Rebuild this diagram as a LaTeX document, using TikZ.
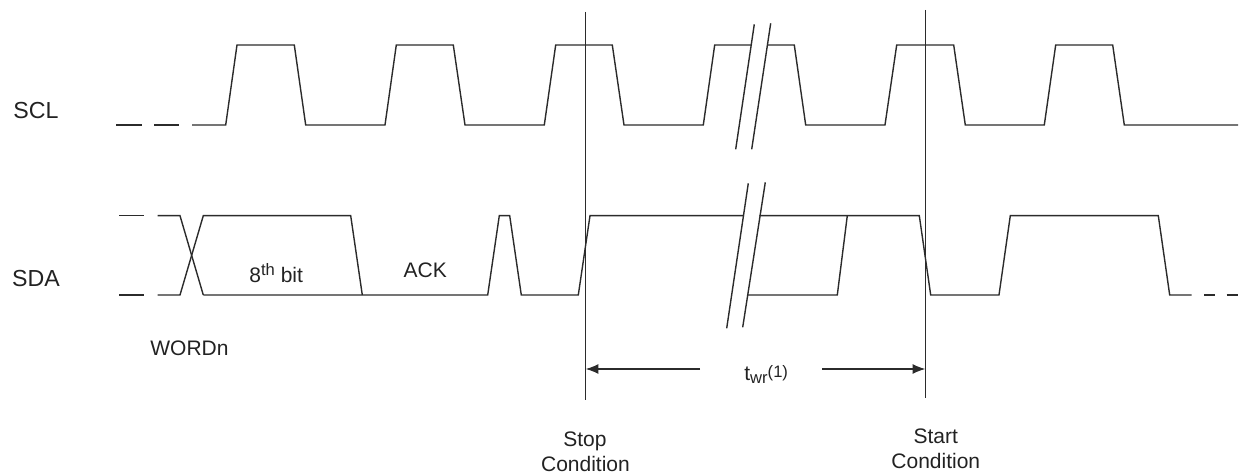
\documentclass[tikz,border=0pt]{standalone}
\usepackage{fontspec}
\setmainfont{Liberation Sans}
\usetikzlibrary{arrows.meta}
\definecolor{wave}{HTML}{2B2B2B}
\definecolor{txt}{HTML}{222222}
\newcommand{\smallsz}{\fontsize{8.3pt}{9pt}\selectfont}
\tikzset{
  sig/.style={draw=wave, line width=0.7pt, line join=miter},
  brk/.style={draw=wave, line width=0.7pt},
  mark line/.style={draw=wave, line width=0.7pt},
  dimarrow/.style={draw=wave, line width=0.7pt, -{Latex[length=6.3pt,width=5pt]}},
  lbl/.style={text=txt, inner sep=0pt, anchor=base, font=\fontsize{11.6pt}{13pt}\selectfont},
  sublbl/.style={text=txt, inner sep=0pt, anchor=base, font=\fontsize{10.5pt}{12pt}\selectfont}
}
\begin{document}
\begin{tikzpicture}[x=0.5pt,y=-0.5pt]
\useasboundingbox (0,0) rectangle (1239,476);
% ---------- SCL ----------
\draw[sig] (116,125)--(141.7,125);
\draw[sig] (154,125)--(179,125);
\draw[sig] (192,125)--(225.7,125)--(237,45)--(294.3,45)--(305.7,125)--(385,125)--(396.3,45)--(453.3,45)--(465,125)--(544.3,125)--(555.7,45)--(612.3,45)--(624,125)--(703.3,125)--(714.7,45)--(751.2,45);
\draw[sig] (767.2,45)--(794.3,45)--(805.7,125)--(885,125)--(896.7,45)--(953.7,45)--(965.3,125)--(1044.3,125)--(1055.7,45)--(1112.7,45)--(1124.3,125)--(1238,125);
% SCL break
\draw[brk] (735.7,149.3)--(754.3,24.3);
\draw[brk] (751.7,149.3)--(770.7,23.3);
% ---------- SDA ----------
\draw[sig] (119.3,215.7)--(144.3,215.7);
\draw[sig] (119.3,295)--(144.3,295);
\draw[sig] (157.7,215.7)--(180,215.7)--(203.3,295);
\draw[sig] (157.7,295)--(180,295)--(203.3,215.7)--(350.7,215.7)--(362.3,295);
\draw[sig] (203.3,295)--(487.7,295)--(499.3,215.7)--(509.7,215.7)--(521.3,295)--(578.3,295)--(590,215.7)--(743.5,215.7);
\draw[sig] (759.3,215.7)--(919.3,215.7)--(930.7,295)--(999,295)--(1010.3,215.7)--(1158.3,215.7)--(1169.7,295)--(1191.7,295);
\draw[sig] (1204.3,295)--(1215,295);
\draw[sig] (1226.7,295)--(1237.7,295);
\draw[sig] (747.5,295)--(837.3,295)--(847.3,215.7);
% SDA break
\draw[brk] (726.7,328.3)--(748.3,183.3);
\draw[brk] (742.7,327.3)--(765.3,182.3);
% ---------- markers ----------
\coordinate (stopT) at (585.7,12);
\coordinate (stopB) at (585.7,400);
\coordinate (startT) at (925.3,10);
\coordinate (startB) at (925.3,398);
\draw[mark line] (stopT)--(stopB);
\draw[mark line] (startT)--(startB);
\coordinate (stopA) at (585.7,369);
\coordinate (startA) at (925.3,369);
\coordinate (aL) at (700,369);
\coordinate (aR) at (822.3,369);
\draw[dimarrow] (aL)--(stopA);
\draw[dimarrow] (aR)--(startA);
% ---------- labels ----------
\node[lbl] (scl) at (36,118.3) {SCL};
\node[lbl] (sda) at (36,286) {SDA};
\node[sublbl] (word) at (189.5,356) {WORDn};
\node[sublbl] (bit) at (276.2,282.3) {8\raisebox{3.2pt}{\smallsz th} bit};
\node[sublbl] (ack) at (425.3,277.3) {ACK};
\node[sublbl] (twr) at (766.2,380) {t\raisebox{-1.6pt}{\smallsz wr}\raisebox{1.4pt}{\smallsz (1)}};
\node[sublbl] (stop1) at (585,446) {Stop};
\node[sublbl] (stop2) at (585.5,471.7) {Condition};
\node[sublbl] (start1) at (935.8,443.3) {Start};
\node[sublbl] (start2) at (935.8,468.3) {Condition};
\end{tikzpicture}
\end{document}
